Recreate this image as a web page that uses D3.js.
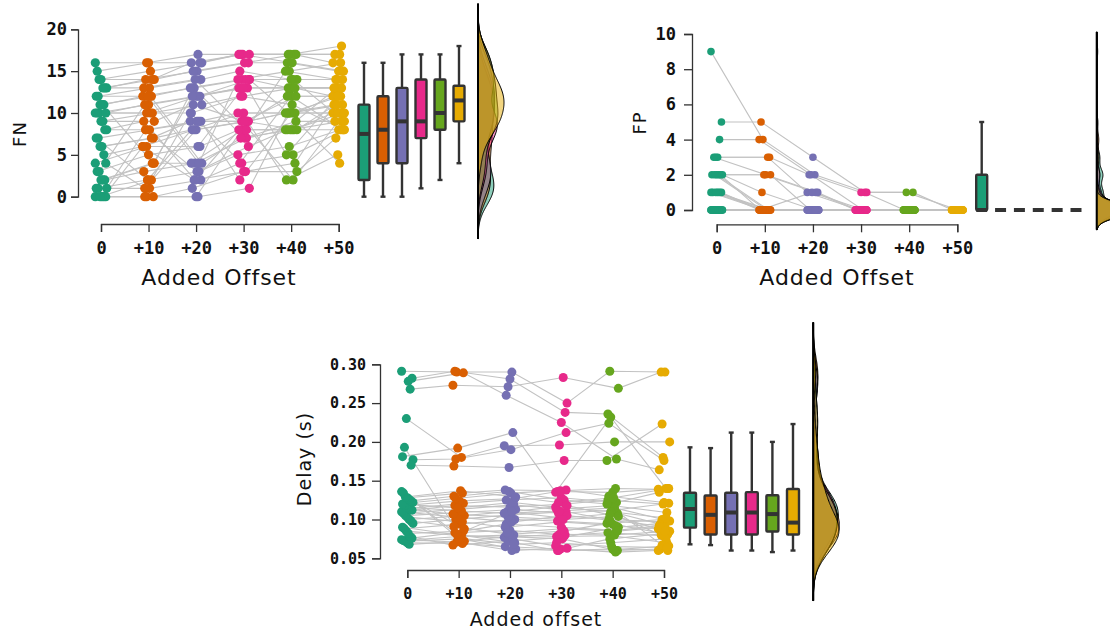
<!DOCTYPE html>
<html>
<head>
<meta charset="utf-8">
<script src="https://cdn.jsdelivr.net/npm/d3@7"></script>
<style>
  body { margin: 0; background: #fff; }
  svg { display: block; }
</style>
</head>
<body>
<svg id="chart" width="1110" height="631"></svg>
<script>
// ---------------- DATA ----------------
const offsets = ["0", "+10", "+20", "+30", "+40", "+50"];
const colors = ["#1b9e77", "#d95f02", "#7570b3", "#e7298a", "#66a61e", "#e6ab02"];

const fnTicks = [0, 5, 10, 15, 20];
const fpTicks = [0, 2, 4, 6, 8, 10];
const delayTicks = [0.05, 0.10, 0.15, 0.20, 0.25, 0.30];

// False negatives per subject (index = subject), one array per added offset
const FN_0  = [0,0,0,0,0,1,1,1,2,2,2,3,3,4,4,5,6,6,7,7,8,8,9,9,10,10,10,10,11,11,11,12,12,13,13,13,14,14,15,16];
const FN_10 = [0,0,6,0,2,1,2,8,3,4,4,12,5,6,1,6,7,7,8,2,8,9,9,10,10,11,10,11,12,4,12,13,12,14,13,14,14,15,16,16];
const FN_20 = [0,0,2,1,10,2,3,3,4,13,4,4,6,6,8,8,8,9,9,9,9,2,11,10,11,12,12,12,13,12,13,14,4,15,14,15,16,16,16,17];
const FN_30 = [1,9,3,3,4,4,5,6,7,7,8,7,8,14,9,9,10,9,2,10,9,9,9,12,12,13,14,13,14,13,14,15,14,16,8,16,17,17,17,17];
const FN_40 = [10,2,3,4,5,12,6,8,8,9,8,8,8,10,10,8,10,2,10,10,12,10,12,13,11,13,13,5,14,13,14,14,15,16,15,17,17,16,17,17];
const FN_50 = [4,5,7,11,8,8,8,8,13,9,10,10,9,10,10,11,12,10,11,12,12,11,12,12,8,13,13,12,14,13,9,14,16,15,14,17,16,15,18,17];

// False positives per subject
const FP_0  = [9,5,4,3,3,3,2,2,2,2,2,2,1,1,1,1,1,1,0,0,0,0,0,0,0,0,0,0,0,0,0,0,0,0,0,0,0,0,0,0];
const FP_10 = [4,5,4,3,3,2,2,1,0,2,0,0,0,0,0,0,0,0,0,0,0,0,0,0,0,0,0,0,0,0,0,0,0,0,0,0,0,0,0,0];
const FP_20 = [2,3,2,2,1,1,1,0,1,0,0,0,0,0,0,0,0,0,0,0,0,0,0,0,0,0,0,0,0,0,0,0,0,0,0,0,0,0,0,0];
const FP_30 = [1,1,0,1,0,0,0,0,0,0,0,0,0,0,0,0,0,0,0,0,0,0,0,0,0,0,0,0,0,0,0,0,0,0,0,0,0,0,0,0];
const FP_40 = [1,0,0,1,0,0,0,0,0,0,0,0,0,0,0,0,0,0,0,0,0,0,0,0,0,0,0,0,0,0,0,0,0,0,0,0,0,0,0,0];
const FP_50 = [0,0,0,0,0,0,0,0,0,0,0,0,0,0,0,0,0,0,0,0,0,0,0,0,0,0,0,0,0,0,0,0,0,0,0,0,0,0,0,0];

// Detection delay (s) per subject
const DELAY_0  = [0.291,0.282,0.268,0.278,0.230,0.193,0.181,0.177,0.170,0.068,0.070,0.072,0.073,0.074,0.076,0.078,0.082,0.085,0.088,0.090,0.095,0.098,0.100,0.103,0.105,0.108,0.110,0.112,0.113,0.114,0.116,0.118,0.120,0.122,0.124,0.126,0.128,0.129,0.134,0.136];
const DELAY_10 = [0.290,0.291,0.273,0.289,0.180,0.080,0.192,0.178,0.169,0.072,0.069,0.075,0.078,0.071,0.083,0.067,0.085,0.079,0.094,0.080,0.100,0.091,0.105,0.097,0.109,0.113,0.103,0.118,0.107,0.121,0.111,0.124,0.115,0.127,0.130,0.088,0.134,0.137,0.076,0.081];
const DELAY_20 = [0.290,0.281,0.271,0.260,0.195,0.070,0.212,0.190,0.167,0.078,0.065,0.062,0.080,0.060,0.086,0.072,0.094,0.077,0.100,0.075,0.106,0.081,0.110,0.090,0.113,0.119,0.097,0.116,0.103,0.125,0.108,0.127,0.122,0.134,0.136,0.083,0.138,0.129,0.068,0.110];
const DELAY_30 = [0.250,0.238,0.283,0.225,0.196,0.060,0.135,0.212,0.176,0.075,0.062,0.060,0.078,0.063,0.080,0.077,0.090,0.081,0.098,0.066,0.110,0.085,0.102,0.097,0.108,0.113,0.105,0.120,0.100,0.128,0.111,0.136,0.116,0.138,0.125,0.088,0.137,0.122,0.070,0.118];
const DELAY_40 = [0.291,0.236,0.269,0.178,0.200,0.062,0.232,0.224,0.176,0.060,0.058,0.061,0.079,0.075,0.083,0.090,0.086,0.080,0.094,0.070,0.100,0.095,0.108,0.092,0.112,0.118,0.099,0.125,0.104,0.122,0.115,0.135,0.110,0.130,0.120,0.085,0.140,0.128,0.065,0.106];
const DELAY_50 = [0.290,0.180,0.290,0.164,0.200,0.060,0.140,0.176,0.223,0.062,0.060,0.066,0.070,0.082,0.079,0.095,0.092,0.085,0.081,0.075,0.097,0.100,0.094,0.088,0.121,0.109,0.091,0.120,0.080,0.135,0.098,0.140,0.102,0.122,0.067,0.090,0.139,0.140,0.064,0.085];

// ---------------- LAYOUT ----------------
const panels = [
  {
    data: [FN_0, FN_10, FN_20, FN_30, FN_40, FN_50],
    yDomain: [0, 20], yRange: [196.7, 29.3], yTicks: fnTicks, yFmt: d3.format("d"),
    yAxisX: 78, yTick: 7, yPad: 4,
    xRange: [101, 338.7], xAxisY: 224,
    boxRange: [364, 459], boxW: 11, densX: 478, densW: 26,
    r: 4.6,
    yLabel: "FN", yLabelX: 20, yLabelY: 134, yLabelSize: 18,
    xLabel: "Added Offset", xLabelX: 219, xLabelY: 285, xLabelSize: 22,
    tickSize: 17
  },
  {
    data: [FP_0, FP_10, FP_20, FP_30, FP_40, FP_50],
    yDomain: [0, 10], yRange: [210, 34], yTicks: fpTicks, yFmt: d3.format("d"),
    yAxisX: 692, yTick: 8, yPad: 8,
    xRange: [716.7, 957.3], xAxisY: 224.3,
    boxRange: [981.7, 1076], boxW: 11, densX: 1096.7, densW: 40,
    r: 3.8,
    yLabel: "FP", yLabelX: 640, yLabelY: 123, yLabelSize: 18,
    xLabel: "Added Offset", xLabelX: 837, xLabelY: 285, xLabelSize: 22,
    tickSize: 17
  },
  {
    data: [DELAY_0, DELAY_10, DELAY_20, DELAY_30, DELAY_40, DELAY_50],
    yDomain: [0.05, 0.30], yRange: [558.3, 364.3], yTicks: delayTicks, yFmt: d3.format(".2f"),
    yAxisX: 380, yTick: 8, yPad: 6,
    xRange: [407.3, 664], xAxisY: 570,
    boxRange: [690, 793], boxW: 12, densX: 813.3, densW: 26,
    r: 4.5,
    yLabel: "Delay (s)", yLabelX: 304, yLabelY: 459, yLabelSize: 19,
    xLabel: "Added offset", xLabelX: 536, xLabelY: 626, xLabelSize: 19,
    tickSize: 15
  }
];

const svg = d3.select("#chart");
const TICK_FONT = "'DejaVu Sans Mono', monospace";
const LABEL_FONT = "'DejaVu Sans', sans-serif";

// deterministic horizontal spread of the dots (layout only)
function jit(i, g) { return (((i * 37 + g * 17) % 13) - 6) * 0.95; }

function kde(values, bw, grid) {
  const c = 1 / (values.length * bw * Math.sqrt(2 * Math.PI));
  return grid.map(v => {
    let s = 0;
    for (const x of values) { const u = (v - x) / bw; s += Math.exp(-0.5 * u * u); }
    return { v, d: s * c };
  });
}

function drawPanel(p) {
  const g = svg.append("g");
  const y = d3.scaleLinear().domain(p.yDomain).range(p.yRange);
  const x = d3.scalePoint().domain(offsets).range(p.xRange);
  const bx = d3.scalePoint().domain(offsets).range(p.boxRange);
  const n = p.data[0].length;

  // subject lines
  const line = d3.line();
  const lines = g.append("g");
  for (let i = 0; i < n; i++) {
    const pts = p.data.map((arr, gi) => [x(offsets[gi]) + jit(i, gi), y(arr[i])]);
    lines.append("path").attr("d", line(pts))
      .attr("fill", "none").attr("stroke", "#c2c2c2").attr("stroke-width", 1.1);
  }

  // dots
  p.data.forEach((arr, gi) => {
    g.append("g").selectAll("circle").data(arr).enter().append("circle")
      .attr("cx", (d, i) => x(offsets[gi]) + jit(i, gi))
      .attr("cy", d => y(d))
      .attr("r", p.r)
      .attr("fill", colors[gi]);
  });

  // box plots
  p.data.forEach((arr, gi) => {
    const s = arr.slice().sort(d3.ascending);
    const q1 = d3.quantile(s, 0.25), med = d3.quantile(s, 0.5), q3 = d3.quantile(s, 0.75);
    const iqr = q3 - q1;
    const lo = d3.min(s.filter(v => v >= q1 - 1.5 * iqr));
    const hi = d3.max(s.filter(v => v <= q3 + 1.5 * iqr));
    const cx = bx(offsets[gi]);
    const bg = g.append("g");
    bg.append("line").attr("x1", cx).attr("x2", cx).attr("y1", y(hi)).attr("y2", y(q3))
      .attr("stroke", "#333").attr("stroke-width", 2.4);
    bg.append("line").attr("x1", cx).attr("x2", cx).attr("y1", y(q1)).attr("y2", y(lo))
      .attr("stroke", "#333").attr("stroke-width", 2.4);
    [hi, lo].forEach(v => bg.append("line").attr("x1", cx - 2.5).attr("x2", cx + 2.5)
      .attr("y1", y(v)).attr("y2", y(v)).attr("stroke", "#333").attr("stroke-width", 2.4));
    bg.append("rect").attr("x", cx - p.boxW / 2).attr("width", p.boxW)
      .attr("y", y(q3)).attr("height", Math.max(0, y(q1) - y(q3)))
      .attr("fill", colors[gi]).attr("stroke", "#333").attr("stroke-width", 2.4)
      .attr("rx", 1);
    bg.append("line").attr("x1", cx - p.boxW / 2).attr("x2", cx + p.boxW / 2)
      .attr("y1", y(med)).attr("y2", y(med)).attr("stroke", "#333").attr("stroke-width", 4);
  });

  // half-violin densities
  const all = p.data.flat();
  const bw = 1.06 * d3.deviation(all) * Math.pow(all.length, -0.2);
  const lo = d3.min(all) - 3 * bw, hi = d3.max(all) + 3 * bw;
  const grid = d3.range(0, 241).map(k => lo + (hi - lo) * k / 240);
  const dens = p.data.map(arr => kde(arr, bw, grid));
  const maxD = d3.max(dens, ds => d3.max(ds, d => d.d));
  const w = d3.scaleLinear().domain([0, maxD]).range([0, p.densW]);
  const area = d3.area().y(d => y(d.v)).x0(p.densX).x1(d => p.densX + w(d.d)).curve(d3.curveBasis);
  dens.forEach((ds, gi) => {
    g.append("path").attr("d", area(ds))
      .attr("fill", colors[gi]).attr("fill-opacity", 0.5)
      .attr("stroke", "#000").attr("stroke-width", 1);
  });
  g.append("line").attr("x1", p.densX).attr("x2", p.densX)
    .attr("y1", y(lo)).attr("y2", y(hi)).attr("stroke", "#000").attr("stroke-width", 2);

  // axes
  const ya = g.append("g").attr("transform", `translate(${p.yAxisX},0)`)
    .call(d3.axisLeft(y).tickValues(p.yTicks).tickFormat(p.yFmt)
      .tickSizeOuter(0).tickSize(p.yTick).tickPadding(p.yPad));
  const xa = g.append("g").attr("transform", `translate(0,${p.xAxisY})`)
    .call(d3.axisBottom(x).tickSizeOuter(0).tickSize(8).tickPadding(10));
  [ya, xa].forEach(a => {
    a.select(".domain").attr("stroke", "#333").attr("stroke-width", 1.3);
    a.selectAll(".tick line").attr("stroke", "#333").attr("stroke-width", 1.3);
    a.selectAll(".tick text").attr("fill", "#111")
      .style("font-family", TICK_FONT).style("font-size", p.tickSize + "px")
      .style("font-weight", "bold");
  });

  g.append("text").text(p.xLabel)
    .attr("x", p.xLabelX).attr("y", p.xLabelY).attr("text-anchor", "middle")
    .style("font-family", LABEL_FONT).style("font-size", p.xLabelSize + "px")
    .style("letter-spacing", "1px").attr("fill", "#111");
  g.append("text").text(p.yLabel)
    .attr("transform", `translate(${p.yLabelX},${p.yLabelY}) rotate(-90)`)
    .attr("text-anchor", "middle").attr("dy", "0.35em")
    .style("font-family", LABEL_FONT).style("font-size", p.yLabelSize + "px")
    .style("letter-spacing", "1px").attr("fill", "#111");
}

panels.forEach(drawPanel);
</script>
</body>
</html>
